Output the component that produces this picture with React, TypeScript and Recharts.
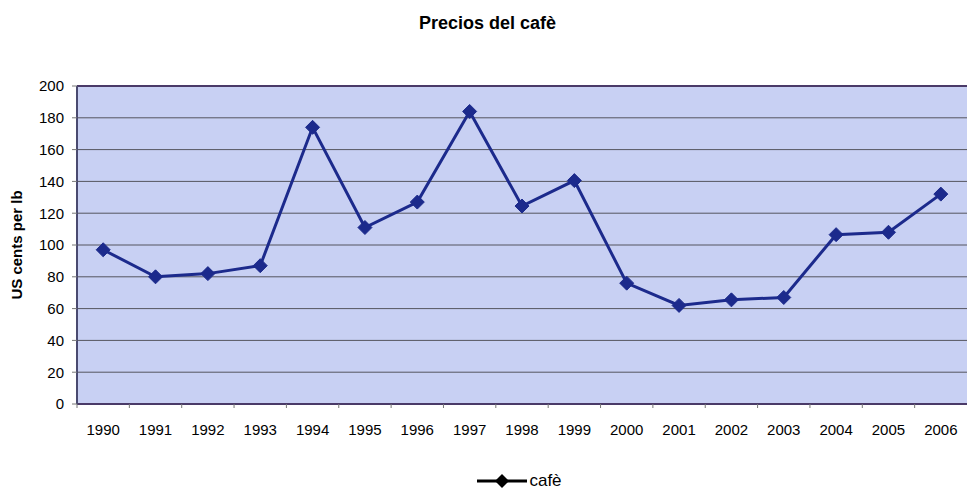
import { LineChart, Line, XAxis, YAxis, CartesianGrid, Legend, ReferenceLine } from 'recharts';

const years = ['1990', '1991', '1992', '1993', '1994', '1995', '1996', '1997', '1998', '1999', '2000', '2001', '2002', '2003', '2004', '2005', '2006'];
const cafe = [97, 80, 82, 87, 174, 111, 127, 184, 124.5, 140.5, 76, 62, 65.5, 67, 106.5, 108, 132];
const yTicks = [0, 20, 40, 60, 80, 100, 120, 140, 160, 180, 200];

const data = years.map((year, i) => ({ year, cafe: cafe[i] }));

const FONT = '"Liberation Sans", Arial, sans-serif';
const NAVY = '#1c2a8c';
const BAND = 52.35;

function Diamond(props: any) {
  const { cx, cy } = props;
  if (cx == null || cy == null) return null;
  const r = 7;
  return (
    <polygon
      points={`${cx},${cy - r} ${cx + r},${cy} ${cx},${cy + r} ${cx - r},${cy}`}
      fill={NAVY}
      stroke={NAVY}
    />
  );
}

// Excel-style: tick marks sit between categories
function YearTick(props: any) {
  const { x, y, payload } = props;
  const half = BAND / 2;
  return (
    <g>
      <line x1={x - half} x2={x - half} y1={y - 8} y2={y - 4} stroke="#777" />
      <text x={x} y={y + 17} textAnchor="middle" dominantBaseline="central" fontSize={15} fontFamily={FONT} fill="#000">
        {payload.value}
      </text>
    </g>
  );
}

function LegendContent() {
  return (
    <div style={{ display: 'flex', justifyContent: 'center', alignItems: 'center', paddingLeft: 72, fontFamily: FONT, fontSize: 17 }}>
      <svg width={50} height={16}>
        <line x1={0} x2={50} y1={8} y2={8} stroke="#000" strokeWidth={3} />
        <polygon points="25,1 32,8 25,15 18,8" fill="#000" />
      </svg>
      <span style={{ marginLeft: 2 }}>cafè</span>
    </div>
  );
}

export default function App() {
  return (
    <div style={{ position: 'absolute', left: 0, top: 0, width: 967, height: 489, background: '#fff', overflow: 'hidden' }}>
      <div
        style={{
          position: 'absolute',
          top: 13,
          left: 0,
          width: 975,
          textAlign: 'center',
          fontFamily: FONT,
          fontWeight: 'bold',
          fontSize: 18,
        }}
      >
        Precios del cafè
      </div>
      <LineChart width={967} height={489} data={data} margin={{ top: 86, right: 0, left: 0, bottom: 0 }}>
        <CartesianGrid vertical={false} fill="#c8d0f3" stroke="#55555f" strokeWidth={1} />
        <XAxis
          dataKey="year"
          height={67}
          padding={{ left: BAND / 2, right: BAND / 2 }}
          tickLine={false}
          axisLine={{ stroke: '#4a3a68', strokeWidth: 2 }}
          tick={<YearTick />}
          interval={0}
        />
        <YAxis
          width={77}
          domain={[0, 200]}
          ticks={yTicks}
          interval={0}
          tickSize={5}
          tickMargin={8}
          tickLine={{ stroke: '#777' }}
          axisLine={{ stroke: '#4a4a70', strokeWidth: 2 }}
          tick={{ fontSize: 15, fontFamily: FONT, fill: '#000' }}
          label={{
            value: 'US cents per lb',
            angle: -90,
            position: 'insideLeft',
            offset: 17,
            style: { textAnchor: 'middle', fontSize: 15, fontWeight: 'bold', fontFamily: FONT, fill: '#000' },
          }}
        />
        <ReferenceLine y={200} stroke="#4a3a68" strokeWidth={2} />
        <Legend verticalAlign="bottom" height={18} content={<LegendContent />} />
        <Line
          type="linear"
          dataKey="cafe"
          name="cafè"
          stroke={NAVY}
          strokeWidth={3}
          dot={<Diamond />}
          activeDot={false}
          isAnimationActive={false}
        />
      </LineChart>
    </div>
  );
}
